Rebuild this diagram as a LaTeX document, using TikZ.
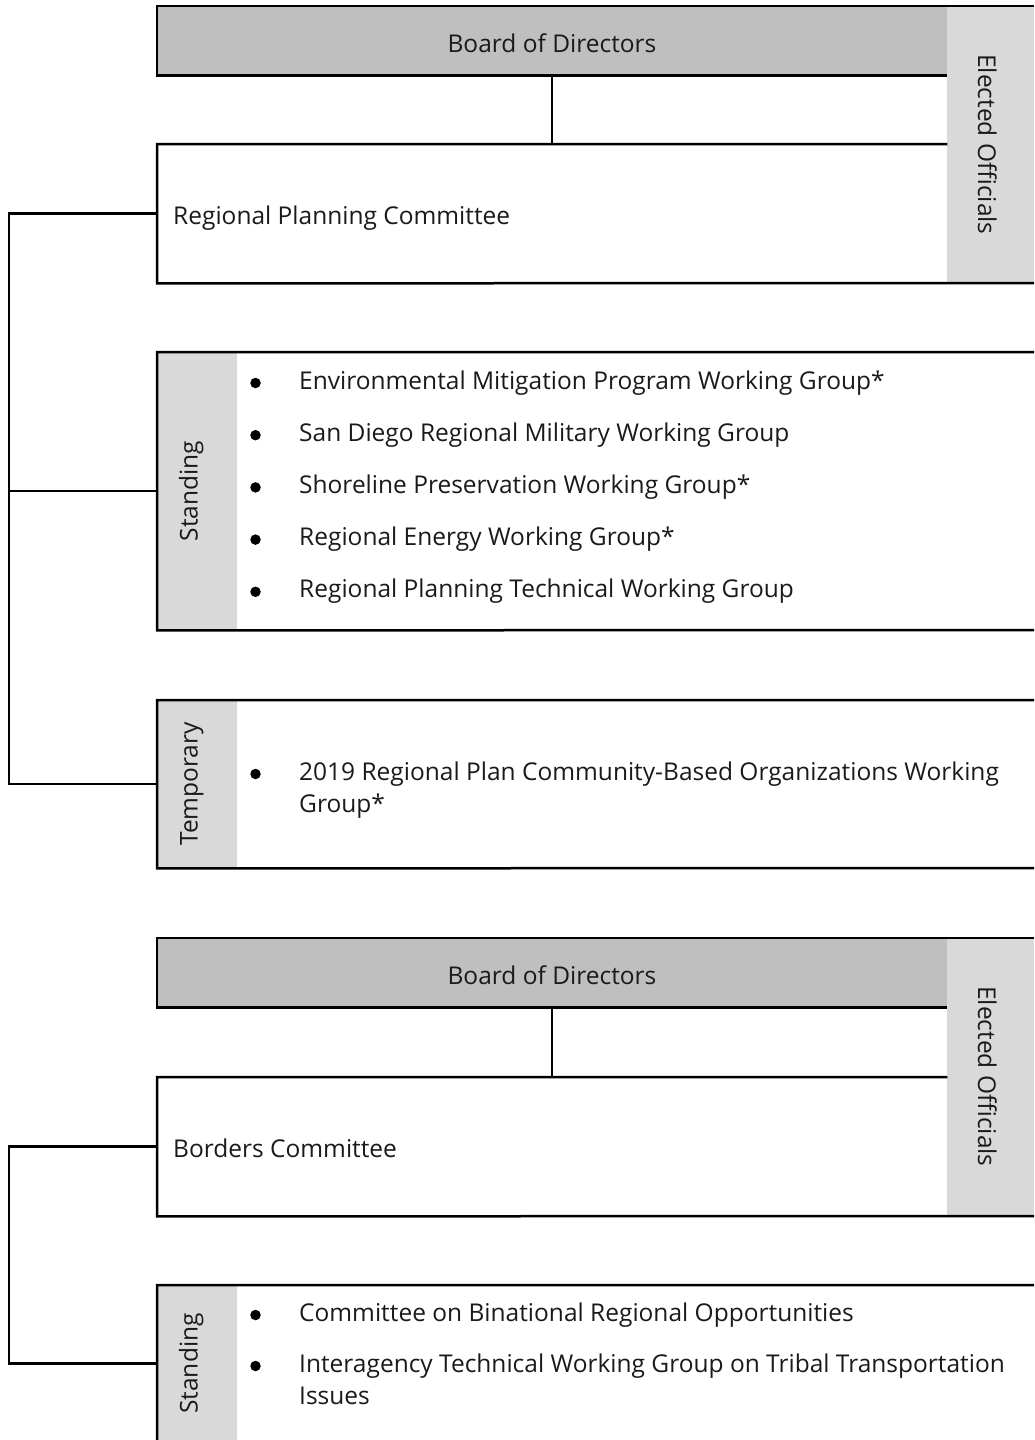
\documentclass[tikz,border=0pt]{standalone}
\usepackage{fontspec}
\setmainfont{Open Sans}
\definecolor{boardgray}{HTML}{BFBFBF}
\definecolor{sidegray}{HTML}{D9D9D9}
\definecolor{ink}{HTML}{1A1A1A}

\begin{document}
\begin{tikzpicture}[x=1pt,y=-1pt,
  rule/.style={line width=2.5pt, draw=black, line join=miter},
  txt/.style={inner sep=0pt, text=ink, font=\fontsize{24.5}{32}\selectfont},
  itemtext/.style={txt, anchor=base west},
  bul/.style={circle, fill=black, inner sep=0pt, minimum size=10.5pt},
  area/.style={inner sep=0pt, draw=none, anchor=north west},
]
\useasboundingbox (0,0) rectangle (1034,1440);
\clip (0,0) rectangle (1034,1440);

% ---------- Regional Planning Committee ----------
\node[area, fill=boardgray, minimum width=790pt, minimum height=69pt] (bod1) at (157,6) {};
\node[area, fill=sidegray, minimum width=87pt, minimum height=277pt] (elec1) at (947,6) {};
\node[area, minimum width=790pt, minimum height=139pt] (rpc) at (157,144) {};
\node[txt, anchor=base] (bod1t) at (552,52) {Board of Directors};
\node[txt, anchor=base, rotate=-90] (elec1t) at (978,144.5) {Elected Officials};
\node[txt, anchor=base west] (rpct) at (173,224) {Regional Planning Committee};

\draw[rule] (1034,6) -- (bod1.north west) -- (bod1.south west) -- (bod1.south east);
\draw[rule] (rpc.north east) -- (rpc.north west) -- (rpc.south west) -- (1034,283);
\draw[rule] (bod1.south) -- (rpc.north);

% standing groups
\node[area, minimum width=877pt, minimum height=278pt] (st1) at (157,352) {};
\fill[sidegray] (157,352) rectangle (237,630);
\draw[rule] (1034,352) -- (st1.north west) -- (st1.south west) -- (1034,630);
\node[txt, anchor=base, rotate=90] (st1t) at (197.5,491) {Standing};

\foreach \name/\bl/\label in {
  e1/389/{Environmental Mitigation Program Working Group*},
  e2/441.2/{San Diego Regional Military Working Group},
  e3/493.4/{Shoreline Preservation Working Group*},
  e4/545.6/{Regional Energy Working Group*},
  e5/597.8/{Regional Planning Technical Working Group}} {
  \node[bul] (\name b) at (255.5,\bl-6) {};
  \node[itemtext] (\name) at (299,\bl) {\label};
}

% temporary groups
\node[area, minimum width=877pt, minimum height=168pt] (tmp1) at (157,700) {};
\fill[sidegray] (157,700) rectangle (237,868);
\draw[rule] (1034,700) -- (tmp1.north west) -- (tmp1.south west) -- (1034,868);
\node[txt, anchor=base, rotate=90] (tmp1t) at (197.5,784) {Temporary};
\node[bul] (t1b) at (255.5,774) {};
\node[itemtext] (t1) at (299,780) {2019 Regional Plan Community-Based Organizations Working};
\node[itemtext] (t1x) at (299,812) {Group*};

% connectors to the committee
\coordinate (spine1) at (9,0);
\draw[rule] (rpc.west) -- (rpc.west -| spine1) -- (tmp1.west -| spine1) -- (tmp1.west);
\draw[rule] (st1.west -| spine1) -- (st1.west);

% ---------- Borders Committee ----------
\node[area, fill=boardgray, minimum width=790pt, minimum height=69pt] (bod2) at (157,938) {};
\node[area, fill=sidegray, minimum width=87pt, minimum height=277pt] (elec2) at (947,938) {};
\node[area, minimum width=790pt, minimum height=139pt] (bc) at (157,1077) {};
\node[txt, anchor=base] (bod2t) at (552,984) {Board of Directors};
\node[txt, anchor=base, rotate=-90] (elec2t) at (978,1076.5) {Elected Officials};
\node[txt, anchor=base west] (bct) at (173,1157) {Borders Committee};

\draw[rule] (1034,938) -- (bod2.north west) -- (bod2.south west) -- (bod2.south east);
\draw[rule] (bc.north east) -- (bc.north west) -- (bc.south west) -- (1034,1216);
\draw[rule] (bod2.south) -- (bc.north);

\node[area, minimum width=877pt, minimum height=157pt] (st2) at (157,1285) {};
\fill[sidegray] (157,1285) rectangle (237,1442);
\draw[rule] (1034,1285) -- (st2.north west) -- (st2.south west) -- (1034,1442);
\node[txt, anchor=base, rotate=90] (st2t) at (197.5,1363.5) {Standing};

\node[bul] (b1b) at (255.5,1315) {};
\node[itemtext] (b1) at (299,1321) {Committee on Binational Regional Opportunities};
\node[bul] (b2b) at (255.5,1366) {};
\node[itemtext] (b2) at (299,1372) {Interagency Technical Working Group on Tribal Transportation};
\node[itemtext] (b2x) at (299,1404) {Issues};

\coordinate (spine2) at (9,0);
\draw[rule] (bc.west) -- (bc.west -| spine2) -- (st2.west -| spine2) -- (st2.west);
\end{tikzpicture}
\end{document}
